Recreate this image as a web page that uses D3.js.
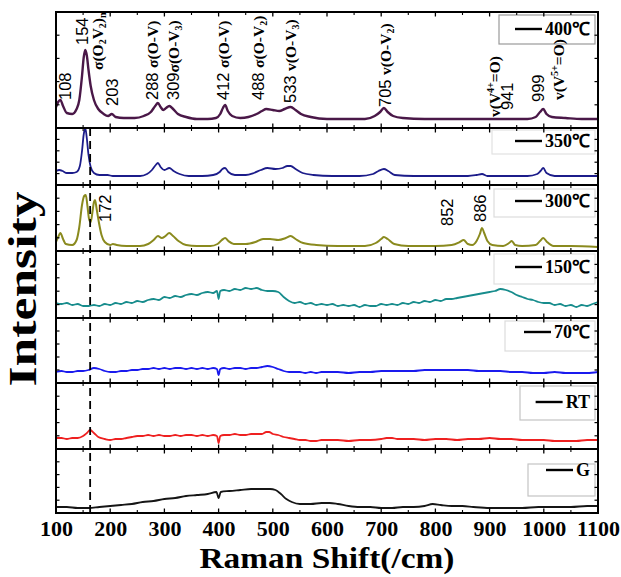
<!DOCTYPE html>
<html><head><meta charset="utf-8">
<script src="https://cdn.jsdelivr.net/npm/d3@7"></script>
<style>body{margin:0;background:#fff}svg{display:block}</style>
</head><body><svg id="c" width="621" height="577"></svg>
<script>
// ---------- DATA (wavenumber cm^-1, relative intensity a.u.) ----------
const xTicks = [100,200,300,400,500,600,700,800,900,1000,1100];
const seriesNames = ["400℃","350℃","300℃","150℃","70℃","RT","G"];

const s400 = [[100,21],[104,26],[108,28],[113,22],[120,15],[130,14],[138,19],[143,28],[148,52],[151,70],[154,78],[157,72],[160,58],[164,42],[170,28],[178,19],[188,14],[196,12],[203,14],[210,11],[225,10],[245,10],[262,12],[275,16],[283,22],[288,25],[293,21],[298,18],[303,20],[309,22],[316,19],[325,14],[340,11],[360,9],[380,9],[395,10],[403,14],[408,20],[412,23],[417,17],[425,12],[440,10],[455,11],[470,14],[480,17],[488,19],[500,18],[512,17],[522,19],[533,21],[542,18],[552,14],[570,11],[600,9],[640,9],[670,9],[688,12],[698,16],[705,20],[712,16],[722,12],[740,10],[780,9],[840,9],[900,9],[940,9],[970,9],[985,11],[993,16],[999,19],[1005,14],[1015,11],[1040,10],[1070,9],[1100,9]];

const s350 = [[100,14],[106,15],[112,14],[120,12],[130,12],[138,13],[144,19],[148,34],[151,50],[154,57],[157,46],[160,30],[164,18],[170,12],[180,10],[195,10],[205,9],[230,9],[255,9],[268,11],[277,15],[284,20],[288,22],[293,18],[300,15],[309,17],[317,14],[328,11],[345,9],[370,9],[390,10],[402,13],[407,16],[412,17],[418,13],[430,10],[450,10],[465,12],[478,15],[490,17],[505,16],[518,17],[527,19],[533,19],[542,16],[555,12],[575,10],[610,9],[660,9],[685,11],[695,14],[705,16],[713,14],[725,10],[760,9],[810,9],[860,9],[876,10],[886,11],[896,9],[930,9],[970,9],[988,11],[994,14],[999,17],[1005,12],[1020,9],[1060,9],[1100,9]];

const s300 = [[100,9],[104,14],[108,18],[113,12],[118,7],[130,6],[138,11],[143,24],[148,46],[152,55],[155,56],[158,45],[161,32],[164,29],[167,38],[170,49],[172,51],[175,42],[179,29],[184,16],[190,9],[200,6],[205,7],[212,6],[230,5],[255,5],[270,7],[280,11],[288,15],[295,13],[302,15],[309,18],[316,15],[326,10],[340,6],[360,5],[385,5],[398,7],[406,11],[412,13],[418,10],[428,7],[450,7],[468,9],[482,12],[495,12],[510,11],[524,13],[533,15],[542,12],[556,8],[580,6],[620,5],[670,5],[690,8],[700,12],[705,14],[712,12],[724,7],[750,5],[800,5],[830,6],[845,9],[852,11],[860,7],[868,6],[876,10],[882,17],[886,23],[890,18],[896,10],[905,6],[925,5],[936,8],[941,10],[947,6],[960,5],[985,6],[993,10],[999,13],[1006,9],[1018,5],[1050,5],[1100,4]];

const s150 = [[100,15],[110,14],[120,15],[130,13],[140,14],[150,12],[160,12],[170,13],[180,12],[190,14],[200,13],[210,15],[220,14],[230,16],[240,15],[250,17],[260,16],[270,18],[280,19],[290,18],[300,21],[310,20],[320,22],[330,21],[340,23],[350,24],[360,23],[370,25],[380,26],[390,25],[397,27],[400,19],[403,27],[410,28],[420,27],[430,29],[440,28],[450,30],[460,29],[470,30],[480,28],[490,27],[500,27],[510,26],[520,21],[530,17],[540,15],[550,16],[560,14],[570,15],[580,13],[590,14],[600,13],[610,14],[620,12],[630,13],[640,12],[650,13],[660,11],[670,13],[680,12],[690,12],[700,14],[710,13],[720,14],[730,13],[740,15],[750,14],[760,16],[770,15],[780,17],[790,16],[800,18],[810,17],[820,19],[830,19],[840,20],[850,21],[860,22],[870,23],[880,24],[890,25],[900,26],[910,27],[920,29],[930,28],[940,26],[950,23],[960,21],[970,19],[980,18],[990,16],[1000,15],[1010,15],[1020,13],[1030,14],[1040,12],[1050,13],[1060,11],[1070,13],[1080,12],[1090,14],[1100,16]];

const s70 = [[100,11],[110,12],[120,11],[130,11],[140,12],[150,12],[160,13],[170,15],[180,14],[190,12],[200,11],[210,11],[220,12],[230,12],[240,13],[250,13],[260,14],[270,14],[280,15],[290,14],[300,15],[310,14],[320,15],[330,15],[340,14],[350,15],[360,14],[370,15],[380,14],[390,15],[397,14],[400,8],[403,14],[410,15],[420,14],[430,15],[440,15],[450,14],[460,15],[470,15],[480,16],[490,17],[500,16],[510,14],[520,12],[530,11],[540,11],[550,11],[560,10],[570,11],[580,10],[590,11],[600,11],[620,11],[640,10],[660,11],[680,11],[700,12],[720,12],[740,12],[760,12],[780,13],[800,13],[820,13],[840,13],[860,13],[880,12],[900,12],[920,12],[940,11],[960,11],[980,10],[1000,10],[1020,11],[1040,10],[1060,10],[1080,10],[1100,11]];

const sRT = [[100,11],[110,11],[120,10],[130,11],[140,11],[150,13],[157,16],[163,19],[170,16],[178,12],[190,10],[200,9],[210,10],[220,10],[230,11],[240,12],[250,13],[260,13],[270,14],[280,13],[290,14],[300,13],[310,13],[320,14],[330,13],[340,14],[350,14],[360,13],[370,14],[380,13],[390,14],[397,13],[400,6],[403,13],[410,14],[420,14],[430,15],[440,14],[450,14],[460,15],[470,15],[480,15],[488,17],[493,17],[500,15],[510,14],[520,12],[530,11],[540,10],[550,9],[560,9],[570,8],[580,8],[590,9],[600,9],[620,9],[640,8],[660,9],[680,9],[700,10],[710,11],[720,11],[730,10],[740,10],[760,10],[780,9],[800,10],[820,10],[840,9],[860,10],[880,10],[900,11],[920,10],[940,10],[960,9],[980,9],[1000,9],[1020,8],[1040,8],[1060,8],[1080,9],[1100,9]];

const sG = [[100,6],[120,6],[140,5],[160,5],[180,6],[200,7],[220,8],[240,9],[260,11],[280,12],[300,14],[320,15],[340,17],[360,18],[380,19],[396,21],[400,15],[404,21],[420,22],[440,23],[460,24],[480,24],[495,24],[505,23],[515,19],[525,14],[535,11],[550,9],[570,9],[590,10],[605,10],[620,9],[640,7],[660,6],[680,6],[700,5],[720,5],[740,6],[760,6],[780,7],[795,9],[810,8],[830,7],[850,7],[870,6],[900,5],[930,5],[960,5],[990,6],[1020,6],[1050,6],[1080,7],[1100,7]];

// band annotations: [series index, wavenumber anchor, intensity anchor, parts]
const annotations = [
  [0,117,28,[["108","n"]]],
  [0,148,83,[["154","n"]]],
  [0,176,58,[["σ(O","s"],["2","sub"],["V","s"],["2","sub"],[")","s"],["n","sub"]]],
  [0,203,22,[["203","n"]]],
  [0,277,28,[["288 ","n"],["σ(O-V)","s"]]],
  [0,316,28,[["309","n"],["σ(O-V","s"],["3","sub"],[")","s"]]],
  [0,408,28,[["412 ","n"],["σ(O-V)","s"]]],
  [0,473,28,[["488 ","n"],["σ(O-V","s"],["2","sub"],[")","s"]]],
  [0,532,25,[["533 ","n"],["v(O-V","s"],["3","sub"],[")","s"]]],
  [0,707,21,[["705 ","n"],["v(O-V","s"],["2","sub"],[")","s"]]],
  [0,909,11,[["v(V","s"],["4+","sup"],["=O)","s"]]],
  [0,933,18,[["941","n"]]],
  [0,990,26,[["999","n"]]],
  [0,1026,28,[["v(V","s"],["5+","sup"],["=O)","s"]]],
  [2,190,29,[["172","n"]]],
  [2,821,25,[["852","n"]]],
  [2,882,29,[["886","n"]]]
];
const dashedAt = 163;

// ---------- LAYOUT ----------
const svg = d3.select("#c");
const L = 56, R = 598;
const x = d3.scaleLinear().domain([100,1100]).range([L,R]);
const panelEdges = [12,128,185,251,318,383,449,513];
const colors = ["#4a1848","#1c1c8a","#8a8a1e","#178c8c","#1a1aee","#ee2020","#151515"];
const widths = [2.4,1.8,2.0,1.8,1.8,1.8,1.8];
const allSeries = [s400,s350,s300,s150,s70,sRT,sG];
const legendY = [29,141,201,267,332,402,470];
const legendBox = [[499,15,96,29,"#9a9a9a"],[492,130,103,24,"#e2e2e2"],[494,189,101,28,"#dcdcdc"],[494,254,101,30,"#e0e0e0"],[505,321,90,30,"#dcdcdc"],[520,386,75,34,"#c4c4c4"],[528,464,67,32,"#c4c4c4"]];

const defs = svg.append("defs");
const panels = allSeries.map((data,i)=>{
  const top = panelEdges[i], bottom = panelEdges[i+1];
  const y = d3.scaleLinear().domain([0,bottom-top]).range([bottom,top]);
  defs.append("clipPath").attr("id","clip"+i).append("rect")
    .attr("x",L).attr("y",top).attr("width",R-L).attr("height",bottom-top);
  return {data,top,bottom,y,i};
});

// legend boxes (behind)
panels.forEach(p=>{
  const b = legendBox[p.i];
  svg.append("rect").attr("x",b[0]).attr("y",b[1]).attr("width",b[2]).attr("height",b[3])
    .attr("fill","#fff").attr("stroke",b[4]).attr("stroke-width",1.2);
});

// curves
panels.forEach(p=>{
  const line = d3.line().x(d=>x(d[0])).y(d=>p.y(d[1])).curve(d3.curveMonotoneX);
  svg.append("path").datum(p.data).attr("d",line)
    .attr("clip-path",`url(#clip${p.i})`)
    .attr("fill","none").attr("stroke",colors[p.i]).attr("stroke-width",widths[p.i])
    .attr("stroke-linejoin","round");
});

// ticks for each panel (top & bottom inward, left & right inward)
panels.forEach(p=>{
  const g = svg.append("g");
  const minor = d3.range(150,1100,100);
  [[p.top,1],[p.bottom,-1]].forEach(([yy,dir])=>{
    xTicks.forEach(t=>g.append("line").attr("x1",x(t)).attr("x2",x(t)).attr("y1",yy).attr("y2",yy+dir*4.5).attr("stroke","#000").attr("stroke-width",1.3));
    minor.forEach(t=>g.append("line").attr("x1",x(t)).attr("x2",x(t)).attr("y1",yy).attr("y2",yy+dir*3).attr("stroke","#000").attr("stroke-width",1.1));
  });
  const h = p.bottom-p.top;
  const yt = d3.range(1,5).map(k=>p.top + h*k/5);
  yt.forEach(yy=>{
    g.append("line").attr("x1",L).attr("x2",L+3.5).attr("y1",yy).attr("y2",yy).attr("stroke","#000").attr("stroke-width",1.2);
    g.append("line").attr("x1",R).attr("x2",R-3.5).attr("y1",yy).attr("y2",yy).attr("stroke","#000").attr("stroke-width",1.2);
  });
  g.append("rect").attr("x",L).attr("y",p.top).attr("width",R-L).attr("height",h)
    .attr("fill","none").attr("stroke","#000").attr("stroke-width",2);
});

// dashed reference line
svg.append("line").attr("x1",x(dashedAt)).attr("x2",x(dashedAt))
  .attr("y1",panelEdges[1]).attr("y2",panelEdges[7])
  .attr("stroke","#000").attr("stroke-width",1.8).attr("stroke-dasharray","8,5");

// legends
panels.forEach(p=>{
  const ty = legendY[p.i]+6;
  const t = svg.append("text").attr("x",590).attr("y",ty).attr("text-anchor","end")
    .attr("font-family","'Liberation Serif','Times New Roman',serif").attr("font-weight","bold")
    .attr("font-size",18).attr("fill","#000").text(seriesNames[p.i]);
  const w = t.node().getComputedTextLength();
  svg.append("line").attr("x1",590-w-30).attr("x2",590-w-3).attr("y1",legendY[p.i]).attr("y2",legendY[p.i])
    .attr("stroke","#000").attr("stroke-width",2.4);
});

// annotations
annotations.forEach(a=>{
  const p = panels[a[0]];
  const t = svg.append("text")
    .attr("transform",`translate(${x(a[1])+6},${p.y(a[2])}) rotate(-90)`)
    .attr("font-size",16.5).attr("fill","#000");
  a[3].forEach(([txt,kind])=>{
    const ts = t.append("tspan").text(txt);
    if(kind==="n"){ ts.attr("font-family","'Liberation Sans',Arial,sans-serif"); }
    else {
      ts.attr("font-family","'Liberation Serif','Times New Roman',serif").attr("font-weight","bold");
      if(kind==="sub") ts.attr("font-size",10).attr("baseline-shift","-3");
      if(kind==="sup") ts.attr("font-size",10).attr("baseline-shift","6");
      if(kind==="s") ts.attr("font-size",15.5);
    }
  });
});

// x axis tick labels
const ax = svg.append("g").attr("transform",`translate(0,${panelEdges[7]})`)
  .call(d3.axisBottom(x).tickValues(xTicks).tickSize(0).tickPadding(7).tickFormat(d3.format("d")));
ax.select(".domain").remove();
ax.selectAll("text").attr("font-family","'Liberation Serif','Times New Roman',serif")
  .attr("font-weight","bold").attr("font-size",22).attr("fill","#000");

// axis titles
svg.append("text").attr("x",327).attr("y",568).attr("text-anchor","middle")
  .attr("font-family","'Liberation Serif','Times New Roman',serif").attr("font-weight","bold")
  .attr("font-size",30).attr("textLength",255).attr("lengthAdjust","spacingAndGlyphs")
  .text("Raman Shift(/cm)");
svg.append("text").attr("transform","translate(36,289) rotate(-90)").attr("text-anchor","middle")
  .attr("font-family","'Liberation Serif','Times New Roman',serif").attr("font-weight","bold")
  .attr("font-size",40).attr("textLength",195).attr("lengthAdjust","spacingAndGlyphs")
  .text("Intensity");
</script></body></html>
